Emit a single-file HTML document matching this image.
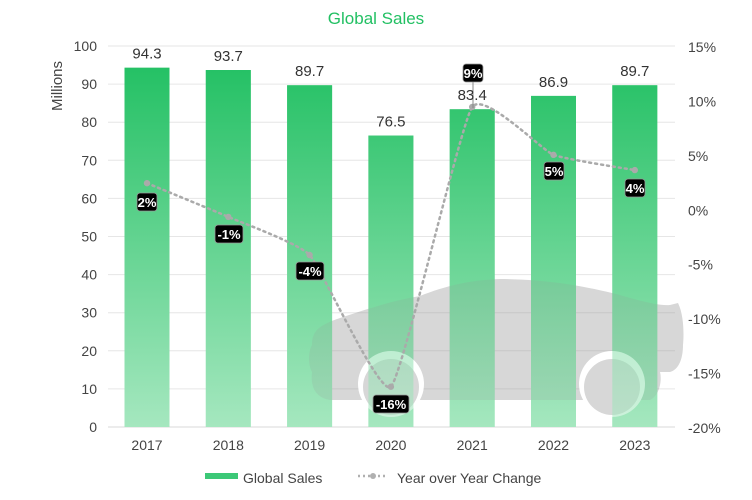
<!DOCTYPE html>
<html><head><meta charset="utf-8"><style>
body{margin:0;background:#fff;}
svg{display:block;font-family:"Liberation Sans",Arial,sans-serif;}
</style></head><body>
<svg id="s" width="752" height="500" viewBox="0 0 752 500" xmlns="http://www.w3.org/2000/svg">
<defs>
<linearGradient id="barg" gradientUnits="userSpaceOnUse" x1="0" y1="60" x2="0" y2="427">
<stop offset="0" stop-color="#22c063"/><stop offset="1" stop-color="#a5e7bf"/>
</linearGradient>
</defs>
<text x="376" y="24" text-anchor="middle" font-size="17" fill="#22c063">Global Sales</text>
<g id="grid"></g>
<g id="bars"></g>
<g fill="rgba(150,150,150,0.38)">
<path d="M312,345 C312,330 320,325 340,318 C370,308 395,300 420,296 C445,286 470,280 500,279 C540,279 580,285 612,293 C635,299 655,306 670,305 L678,303 C684,315 684,335 683,345 C683,360 678,370 670,372 L312,372 C308,365 308,352 312,345 Z"/>
<path d="M312,372 L660,372 C662,380 660,395 650,400 L330,400 C318,398 310,390 312,372 Z"/>
</g>
<g fill="#fff">
<circle cx="391" cy="384" r="33"/><circle cx="612" cy="384" r="33"/>
</g>
<g fill="rgba(150,150,150,0.38)">
<circle cx="391" cy="387" r="28"/><circle cx="612" cy="387" r="28"/>
</g>
<g id="bars2"></g>
<g id="line"></g>
<g id="labels"></g>
<text transform="translate(62,86) rotate(-90)" text-anchor="middle" font-size="15" fill="#444">Millions</text>
<rect x="205" y="473" width="33" height="6" fill="#3cc877"/>
<text x="243" y="483" font-size="14" fill="#444">Global Sales</text>
<line x1="358" y1="476" x2="388" y2="476" stroke="#b0b0b0" stroke-width="2.5" stroke-dasharray="2,3"/>
<circle cx="373" cy="476" r="3" fill="#b0b0b0"/>
<text x="397" y="483" font-size="14" fill="#444">Year over Year Change</text>
</svg>
<script>
(function(){
var NS="http://www.w3.org/2000/svg";
function el(p,t,a,txt){var e=document.createElementNS(NS,t);for(var k in a)e.setAttribute(k,a[k]);if(txt!==undefined)e.textContent=txt;document.getElementById(p).appendChild(e);return e;}
var y0=427,ppu=3.81;
for(var v=0;v<=100;v+=10){var y=y0-v*ppu;
 el("grid","line",{x1:108,x2:675,y1:y,y2:y,stroke:v==0?"#d8d8d8":"#e6e6e6","stroke-width":1});
 el("grid","text",{x:97,y:y+5,"text-anchor":"end","font-size":14,fill:"#444"},v);}
for(var i=0;i<8;i++){var p=15-5*i;var y=46+i*54.43;
 el("grid","text",{x:688,y:y+6,"font-size":14,fill:"#444"},p+"%");}
var yrs=[2017,2018,2019,2020,2021,2022,2023],vals=[94.3,93.7,89.7,76.5,83.4,86.9,89.7],
 pct=[2.4,-0.7,-4.2,-16.3,9.4,5.0,3.6],lab=["2%","-1%","-4%","-16%","9%","5%","4%"];
var pts=[];
for(var i=0;i<7;i++){var cx=147+i*81.3,tp=y0-vals[i]*ppu,h=y0-tp;
 el("bars","rect",{x:cx-22.5,y:tp,width:45,height:h,fill:"url(#barg)"});
 el("bars2","rect",{x:cx-22.5,y:tp,width:45,height:h,fill:"url(#barg)","fill-opacity":0.55});
 el("labels","text",{x:cx,y:tp-9,"text-anchor":"middle","font-size":15,fill:"#333"},vals[i].toFixed(1));
 el("labels","text",{x:cx,y:450,"text-anchor":"middle","font-size":14,fill:"#444"},yrs[i]);
 pts.push([cx,46+(15-pct[i])*10.886]);}
var d="M"+pts[0][0]+","+pts[0][1];
for(var i=0;i<6;i++){var p0=pts[Math.max(i-1,0)],p1=pts[i],p2=pts[i+1],p3=pts[Math.min(i+2,6)],t=0.07;
 d+=" C"+(p1[0]+(p2[0]-p0[0])*t)+","+(p1[1]+(p2[1]-p0[1])*t)+" "+(p2[0]-(p3[0]-p1[0])*t)+","+(p2[1]-(p3[1]-p1[1])*t)+" "+p2[0]+","+p2[1];}
el("line","path",{d:d,fill:"none",stroke:"#aaa","stroke-width":2.5,"stroke-dasharray":"2,4","stroke-linecap":"round"});
pts.forEach(function(p){el("line","circle",{cx:p[0],cy:p[1],r:3.2,fill:"#aaa"});});
var lp=[[147,202],[229,234],[310,271],[391,404],[473,73],[554,171],[635,188]];
el("line","line",{x1:473,y1:80,x2:473,y2:108,stroke:"#888","stroke-width":1});
for(var i=0;i<7;i++){var w=lab[i].length*8+4;
 el("labels","rect",{x:lp[i][0]-w/2,y:lp[i][1]-9,width:w,height:18,rx:3,fill:"#000",stroke:"#999","stroke-width":0.8});
 el("labels","text",{x:lp[i][0],y:lp[i][1]+5,"text-anchor":"middle","font-size":13,"font-weight":"bold",fill:"#fff"},lab[i]);}
})();
</script>
</body></html>
